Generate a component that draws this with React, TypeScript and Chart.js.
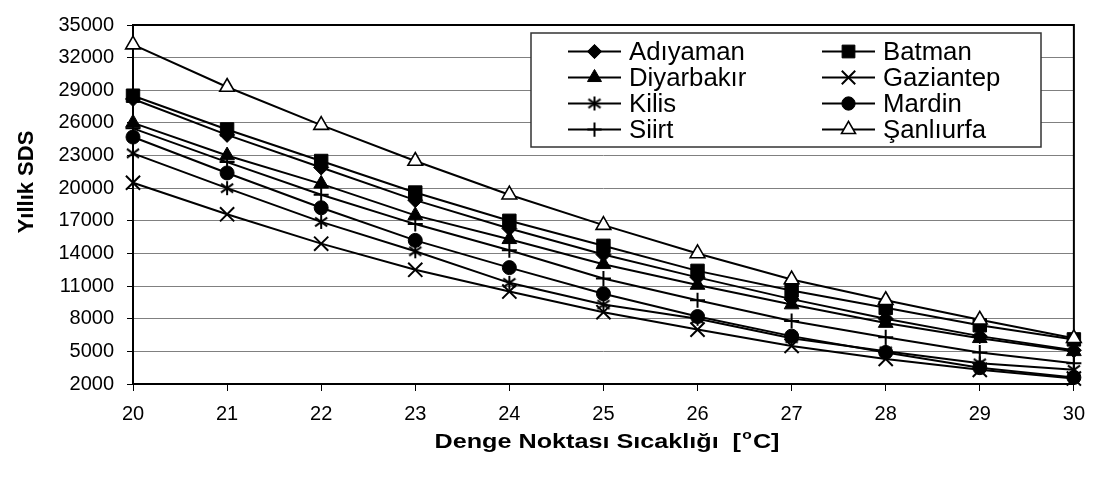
import React, { useEffect, useRef } from 'react';
import { Chart, registerables } from 'chart.js';
import { drawPoint } from 'chart.js/helpers';

Chart.register(...registerables);

// ---- data ----
const categories = ['20', '21', '22', '23', '24', '25', '26', '27', '28', '29', '30'];
const yTickValues = [2000, 5000, 8000, 11000, 14000, 17000, 20000, 23000, 26000, 29000, 32000, 35000];

const adiyaman = [28200, 24900, 21900, 18900, 16300, 13900, 11800, 9800, 8000, 6400, 5100];
const batman = [28500, 25400, 22500, 19600, 17000, 14700, 12400, 10600, 9000, 7400, 6100];
const diyarbakir = [26000, 23000, 20400, 17500, 15300, 13000, 11100, 9300, 7600, 6200, 5000];
const gaziantep = [20500, 17600, 14900, 12500, 10500, 8600, 7000, 5500, 4300, 3300, 2500];
const kilis = [23200, 20000, 16900, 14200, 11300, 9300, 8000, 6200, 5000, 3900, 3300];
const mardin = [24700, 21400, 18200, 15200, 12700, 10300, 8200, 6400, 4900, 3500, 2600];
const siirt = [25500, 22400, 19400, 16700, 14300, 11700, 9700, 7800, 6300, 4900, 3900];
const sanliurfa = [33200, 29300, 25800, 22500, 19400, 16600, 14000, 11600, 9700, 7900, 6200];

const seriesNames = ['Adıyaman', 'Batman', 'Diyarbakır', 'Gaziantep', 'Kilis', 'Mardin', 'Siirt', 'Şanlıurfa'];
const seriesValues = [adiyaman, batman, diyarbakir, gaziantep, kilis, mardin, siirt, sanliurfa];

const xTitle = 'Denge Noktası Sıcaklığı  [';
const xTitleSup = 'o';
const xTitleEnd = 'C]';
const yTitle = 'Yıllık SDS';

const FONT = "'Liberation Sans', Arial, Helvetica, sans-serif";

function makeAsterisk(size: number): HTMLCanvasElement {
  const c = document.createElement('canvas');
  c.width = size;
  c.height = size;
  const ctx = c.getContext('2d')!;
  ctx.strokeStyle = '#000';
  ctx.lineWidth = 2;
  ctx.lineCap = 'butt';
  const m = size / 2;
  const r = size / 2 - 1;
  ctx.beginPath();
  ctx.moveTo(m, m - r);
  ctx.lineTo(m, m + r);
  const dx = r * Math.cos(Math.PI / 6);
  const dy = r * Math.sin(Math.PI / 6) * 1.25;
  ctx.moveTo(m - dx, m - dy);
  ctx.lineTo(m + dx, m + dy);
  ctx.moveTo(m - dx, m + dy);
  ctx.lineTo(m + dx, m - dy);
  ctx.stroke();
  return c;
}

type Marker = { pointStyle: any; radius: number; bg: string; bw: number };

function buildMarkers(): Marker[] {
  const ast = makeAsterisk(16);
  return [
    { pointStyle: 'rectRot', radius: 7.5, bg: '#000', bw: 1 },
    { pointStyle: 'rect', radius: 9.5, bg: '#000', bw: 1 },
    { pointStyle: 'triangle', radius: 8.5, bg: '#000', bw: 1 },
    { pointStyle: 'crossRot', radius: 10, bg: '#000', bw: 2 },
    { pointStyle: ast, radius: 8, bg: '#000', bw: 2 },
    { pointStyle: 'circle', radius: 7, bg: '#000', bw: 1 },
    { pointStyle: 'cross', radius: 7.5, bg: '#000', bw: 2 },
    { pointStyle: 'triangle', radius: 8.5, bg: '#fff', bw: 1.6 },
  ];
}

export default function App() {
  const ref = useRef<HTMLCanvasElement | null>(null);

  useEffect(() => {
    if (!ref.current) return;
    const markers = buildMarkers();

    const datasets = seriesNames.map((name, i) => ({
      label: name,
      data: seriesValues[i],
      borderColor: '#000',
      borderWidth: 2,
      backgroundColor: markers[i].bg,
      pointStyle: markers[i].pointStyle,
      pointRadius: markers[i].radius,
      pointBackgroundColor: markers[i].bg,
      pointBorderColor: '#000',
      pointBorderWidth: markers[i].bw,
      tension: 0,
      fill: false,
      clip: false as any,
      order: -i,
    }));

    const decor = {
      id: 'decor',
      beforeDatasetsDraw(chart: any) {
        const { ctx, chartArea: a } = chart;
        ctx.save();
        ctx.strokeStyle = '#000';
        ctx.lineWidth = 2;
        ctx.strokeRect(a.left, a.top, a.right - a.left, a.bottom - a.top);
        ctx.restore();
      },
      afterDraw(chart: any) {
        const ctx: CanvasRenderingContext2D = chart.ctx;
        // legend box
        ctx.save();
        const bx = 531, by = 33, bw = 510, bh = 114;
        ctx.fillStyle = '#fff';
        ctx.fillRect(bx, by, bw, bh);
        ctx.strokeStyle = '#333';
        ctx.lineWidth = 1.5;
        ctx.strokeRect(bx, by, bw, bh);
        const colX = [568, 822];
        const rowBase = [60, 86, 112, 138];
        seriesNames.forEach((name, i) => {
          const col = i % 2;
          const row = Math.floor(i / 2);
          const x0 = colX[col];
          const yb = rowBase[row];
          const yc = yb - 8.5;
          ctx.strokeStyle = '#000';
          ctx.lineWidth = 2;
          ctx.beginPath();
          ctx.moveTo(x0, yc);
          ctx.lineTo(x0 + 53, yc);
          ctx.stroke();
          const m = markers[i];
          ctx.fillStyle = m.bg;
          ctx.strokeStyle = '#000';
          ctx.lineWidth = m.bw;
          drawPoint(ctx, { pointStyle: m.pointStyle, radius: m.radius * 0.95, borderWidth: m.bw, rotation: 0 } as any, x0 + 26.5, yc);
          ctx.fillStyle = '#000';
          ctx.font = `25px ${FONT}`;
          ctx.textAlign = 'left';
          ctx.textBaseline = 'alphabetic';
          ctx.save();
          ctx.translate(x0 + 61, yb);
          ctx.scale(1.03, 1);
          ctx.fillText(name, 0, 0);
          ctx.restore();
        });
        ctx.restore();

        // y title
        ctx.save();
        ctx.fillStyle = '#000';
        ctx.font = `bold 22px ${FONT}`;
        ctx.textAlign = 'center';
        ctx.textBaseline = 'middle';
        ctx.translate(27, 182);
        ctx.rotate(-Math.PI / 2);
        ctx.fillText(yTitle, 0, 0);
        ctx.restore();

        // x title
        ctx.save();
        ctx.fillStyle = '#000';
        ctx.textAlign = 'left';
        ctx.textBaseline = 'alphabetic';
        const mainFont = `bold 21px ${FONT}`;
        const supFont = `bold 13px ${FONT}`;
        ctx.font = mainFont;
        const w1 = ctx.measureText(xTitle).width;
        const w3 = ctx.measureText(xTitleEnd).width;
        ctx.font = supFont;
        const w2 = ctx.measureText(xTitleSup).width + 2;
        const total = w1 + w2 + w3;
        const sx = Math.min(1.25, 345 / total);
        ctx.translate(607, 448);
        ctx.scale(sx, 1);
        let x = -total / 2;
        ctx.font = mainFont;
        ctx.fillText(xTitle, x, 0);
        x += w1;
        ctx.font = supFont;
        ctx.fillText(xTitleSup, x + 1, -9);
        x += w2;
        ctx.font = mainFont;
        ctx.fillText(xTitleEnd, x, 0);
        ctx.restore();
      },
    };

    const chart = new Chart(ref.current, {
      type: 'line',
      data: { labels: categories, datasets: datasets as any },
      options: {
        responsive: true,
        maintainAspectRatio: false,
        animation: false,
        devicePixelRatio: 1,
        layout: { padding: { left: 0, right: 18, top: 17, bottom: 0 } },
        plugins: {
          legend: { display: false },
          tooltip: { enabled: false },
          title: { display: false },
        },
        scales: {
          x: {
            type: 'category',
            offset: false,
            border: { display: false },
            grid: {
              drawOnChartArea: false,
              drawTicks: true,
              tickLength: 7,
              color: '#000',
              lineWidth: 1,
            },
            ticks: {
              color: '#000',
              font: { family: FONT, size: 20 },
              padding: 11,
              maxRotation: 0,
              autoSkip: false,
            },
            afterFit(s: any) {
              s.height = 93;
            },
          },
          y: {
            type: 'linear',
            min: 2000,
            max: 35000,
            border: { display: false },
            afterBuildTicks(s: any) {
              s.ticks = yTickValues.map((v) => ({ value: v }));
            },
            grid: {
              color: '#808080',
              tickColor: '#000',
              tickLength: 6,
              lineWidth: 1,
            },
            ticks: {
              color: '#000',
              font: { family: FONT, size: 20 },
              padding: 13,
              callback: (v: any) => String(v),
            },
            afterFit(s: any) {
              s.width = 133;
            },
          },
        },
      },
      plugins: [decor],
    });

    return () => chart.destroy();
  }, []);

  return (
    <div style={{ position: 'absolute', left: 0, top: 0, width: 1096, height: 477, background: '#fff' }}>
      <canvas ref={ref} />
    </div>
  );
}
